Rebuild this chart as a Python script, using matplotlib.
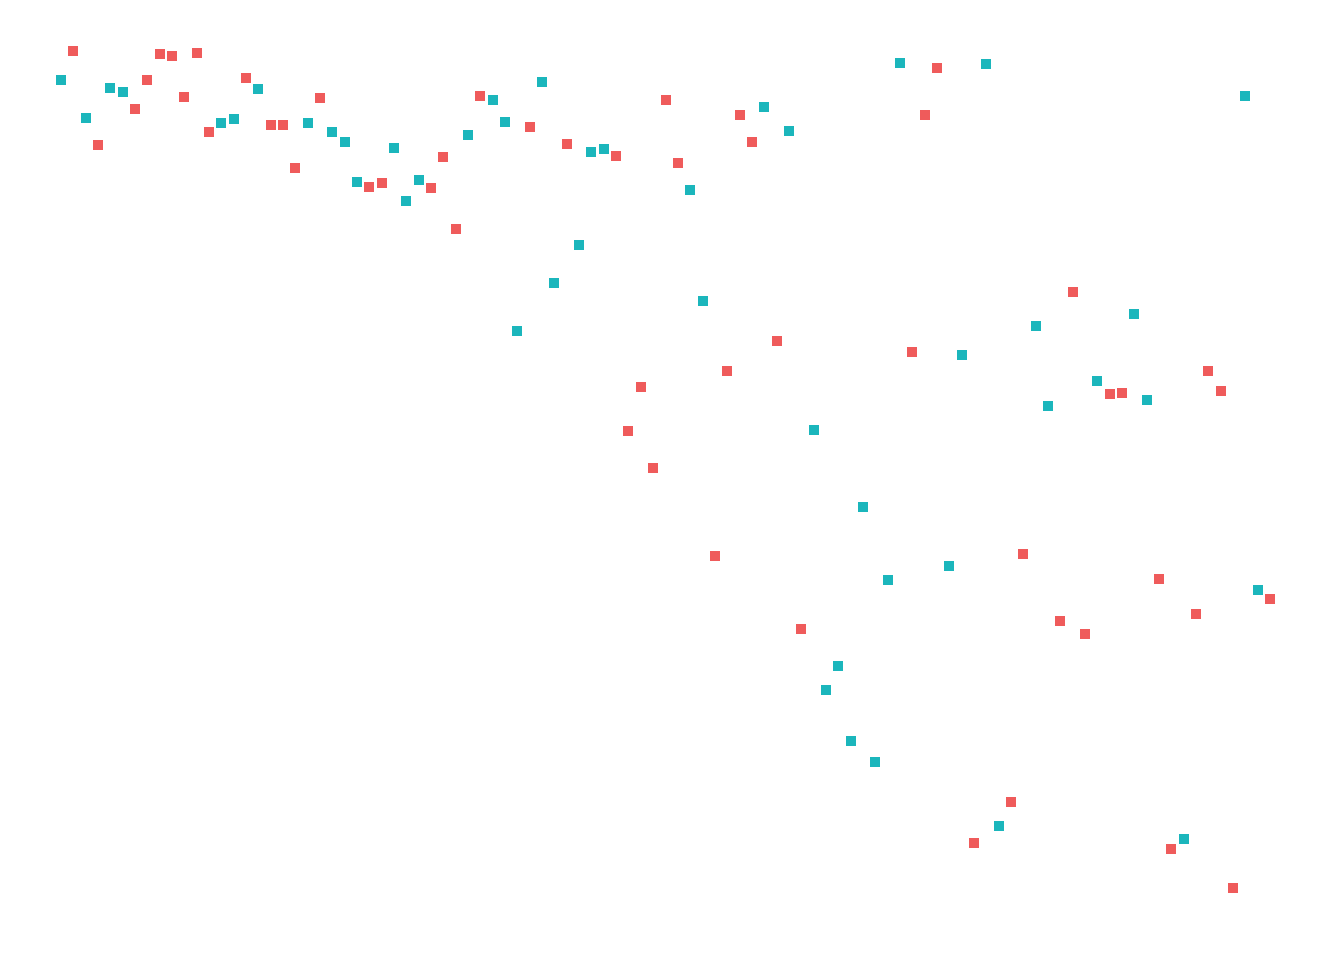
import numpy as np
import matplotlib.pyplot as plt

# index of each point along the x axis (evenly spaced)
idx = np.arange(1, 100)

# vertical value of each point (higher = nearer the top)
values = [880, 909, 842, 815, 872, 868, 851, 880, 906, 904,
          863, 907, 828, 837, 841, 882, 871, 835, 835, 792,
          837, 862, 828, 818, 778, 773, 777, 812, 759, 780,
          772, 803, 731, 825, 864, 860, 838, 629, 833, 878,
          677, 816, 715, 808, 811, 804, 529, 573, 492, 860,
          797, 770, 659, 404, 589, 845, 818, 853, 619, 829,
          331, 530, 270, 294, 219, 453, 198, 380, 897, 608,
          845, 892, 394, 605, 117, 896, 134, 158, 406, 634,
          554, 339, 668, 326, 579, 566, 567, 646, 560, 381,
          111, 121, 346, 589, 569, 72, 864, 370, 361]

# group of each point: 0 = red, 1 = teal
groups = [1, 0, 1, 0, 1, 1, 0, 0, 0, 0,
          0, 0, 0, 1, 1, 0, 1, 0, 0, 0,
          1, 0, 1, 1, 1, 0, 0, 1, 1, 1,
          0, 0, 0, 1, 0, 1, 1, 1, 0, 1,
          1, 0, 1, 1, 1, 0, 0, 0, 0, 0,
          0, 1, 1, 0, 0, 0, 0, 1, 0, 1,
          0, 1, 1, 1, 1, 1, 1, 1, 1, 0,
          0, 0, 1, 1, 0, 1, 1, 0, 0, 1,
          1, 0, 0, 0, 1, 0, 0, 1, 1, 0,
          0, 1, 0, 0, 0, 0, 1, 1, 0]

colors = ["#EF5B5B", "#1BB6BC"]

values = np.array(values)
groups = np.array(groups)

fig = plt.figure(figsize=(13.44, 9.6), dpi=100)
ax = fig.add_axes([0, 0, 1, 1])

for g in (0, 1):
    m = groups == g
    ax.plot(idx[m], values[m], "s", color=colors[g], markersize=7.6,
            markeredgewidth=0, linestyle="none")

step = (1270 - 61) / 98
ax.set_xlim(1 - 61 / step, 99 + (1344 - 1270) / step)
ax.set_ylim(0, 960)
ax.axis("off")

fig.savefig("out.png", dpi=100)
